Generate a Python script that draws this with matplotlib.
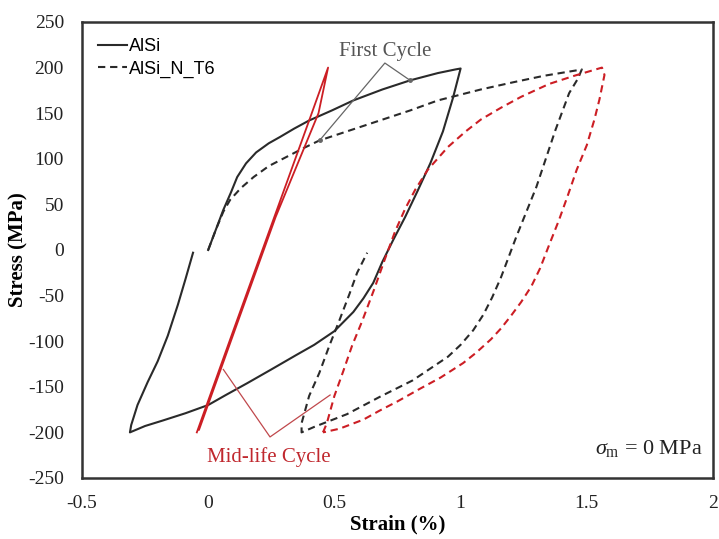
import matplotlib
matplotlib.use("Agg")
import matplotlib.pyplot as plt
from matplotlib.lines import Line2D

# ---------------- data ----------------
# AlSi, first cycle (solid black)
alsi_first_strain = [0.00, 0.03, 0.06, 0.09, 0.115, 0.15, 0.19, 0.24, 0.285, 0.34, 0.40, 0.49, 0.575, 0.69, 0.80, 0.91, 0.98, 1.00,
                     0.97, 0.93, 0.88, 0.83, 0.78, 0.733, 0.69, 0.654, 0.615, 0.575, 0.50, 0.42, 0.35, 0.25, 0.155, 0.07, 0.00,
                     -0.09, -0.18, -0.25, -0.31, -0.305, -0.28, -0.24, -0.20, -0.16, -0.12, -0.09, -0.06]
alsi_first_stress = [0, 22, 44, 63, 80, 95, 107, 117, 124, 133, 142, 153, 164, 176, 186, 194, 198, 199,
                     167, 130, 95, 65, 36, 11, -13, -36, -53, -68, -89, -104, -115, -131, -146, -159, -170,
                     -179, -187, -193, -200, -192, -170, -145, -122, -94, -60, -32, -3]

# AlSi_N_T6, first cycle (dashed black)
t6_first_strain = [0.00, 0.03, 0.06, 0.087, 0.13, 0.18, 0.24, 0.31, 0.38, 0.44, 0.56, 0.68, 0.80, 0.91, 1.08, 1.21, 1.33, 1.46, 1.48,
                   1.465, 1.43, 1.375, 1.30, 1.22, 1.16, 1.125, 1.09, 1.05, 1.00, 0.95, 0.81, 0.68, 0.55, 0.42, 0.37,
                   0.37, 0.40, 0.44, 0.48, 0.52, 0.56, 0.59, 0.63]
t6_first_stress = [0, 22, 42, 55, 68, 80, 92, 102, 112, 120, 131, 142, 153, 164, 176, 184, 191, 197, 198,
                   188, 172, 131, 69, 14, -30, -52, -71, -88, -104, -117, -143, -161, -180, -194, -200,
                   -190, -160, -135, -105, -77, -48, -25, -3]

# AlSi, mid-life cycle (solid red, narrow loop)
alsi_mid_strain = [-0.045, 0.10, 0.25, 0.40, 0.475, 0.437, 0.267, 0.117, -0.036]
alsi_mid_stress = [-200, -88, 27, 142, 200, 150, 36, -79, -197]

# AlSi_N_T6, mid-life cycle (dashed red)
t6_mid_strain = [0.455, 0.47, 0.50, 0.535, 0.57, 0.61, 0.655, 0.70, 0.74, 0.78, 0.82, 0.87, 0.95, 1.02, 1.08, 1.16, 1.24, 1.35, 1.45, 1.56,
                 1.57, 1.55, 1.53, 1.50, 1.46, 1.425, 1.39, 1.35, 1.315, 1.28, 1.24, 1.20, 1.16, 1.12, 1.06, 1.01, 0.92, 0.84, 0.75, 0.68, 0.615, 0.52, 0.455]
t6_mid_stress = [-200, -190, -160, -133, -105, -78, -45, -10, 20, 45, 66, 88, 113, 130, 143, 156, 168, 182, 191, 200,
                 192, 165, 143, 115, 88, 60, 33, 5, -20, -40, -57, -72, -86, -98, -113, -124, -140, -152, -166, -176, -186, -196, -200]

x_ticks = [-0.5, 0, 0.5, 1, 1.5, 2]
x_tick_labels = ["-0.5", "0", "0.5", "1", "1.5", "2"]
y_ticks = [-250, -200, -150, -100, -50, 0, 50, 100, 150, 200, 250]
y_tick_labels = ["-250", "-200", "-150", "-100", "-50", "0", "50", "100", "150", "200", "250"]

# ---------------- figure ----------------
SERIF = ["Liberation Serif", "DejaVu Serif"]
SANS = ["Liberation Sans", "DejaVu Sans"]
plt.rcParams["mathtext.fontset"] = "custom"
plt.rcParams["mathtext.rm"] = "Liberation Serif"
plt.rcParams["mathtext.it"] = "Liberation Serif:italic"

fig = plt.figure(figsize=(7.19, 5.39), dpi=100)
ax = fig.add_axes([0.114, 0.1132, 0.8777, 0.8460])

black = "#2a2a2a"
red = "#cc1e24"
dash = (0, (3.5, 2.3))

ax.plot(alsi_first_strain, alsi_first_stress, color=black, lw=1.5, solid_joinstyle="round")
ax.plot(t6_first_strain, t6_first_stress, color=black, lw=1.5, linestyle=dash)
ax.plot(alsi_mid_strain, alsi_mid_stress, color=red, lw=1.3)
ax.plot(t6_mid_strain, t6_mid_stress, color=red, lw=1.5, linestyle=dash)

ax.set_xlim(-0.5, 2)
ax.set_ylim(-250, 250)
ax.set_xticks(x_ticks)
ax.set_xticklabels(x_tick_labels)
ax.set_yticks(y_ticks)
ax.set_yticklabels(y_tick_labels)
ax.tick_params(length=0, labelsize=14, colors="#222222")
ax.tick_params(axis="y", pad=13)
ax.tick_params(axis="x", pad=12)
for lab in ax.get_xticklabels() + ax.get_yticklabels():
    lab.set_family(SERIF)

for sp in ax.spines.values():
    sp.set_color("#333333")
    sp.set_linewidth(1.8)

ax.set_xlabel("Strain (%)", family=SERIF, fontsize=15, fontweight="bold", labelpad=2)
ax.set_ylabel("Stress (MPa)", family=SERIF, fontsize=15, fontweight="bold")
ax.yaxis.set_label_coords(-0.084, 0.5)

# legend
handles = [Line2D([], [], color=black, lw=1.5),
           Line2D([], [], color=black, lw=1.5, linestyle=dash)]
leg = ax.legend(handles, ["AlSi", "AlSi_N_T6"], loc="upper left", frameon=False,
                prop={"family": SANS, "size": 13}, handlelength=1.6, handletextpad=0.1,
                labelspacing=0.3, borderaxespad=0.5)

# annotations
grey = "#666666"
ax.text(0.70, 207, "First Cycle", family=SERIF, fontsize=15, color="#555555", ha="center", va="bottom")
ax.plot([0.80, 0.70, 0.444], [186, 205, 121], color=grey, lw=0.9)
ax.plot([0.80, 0.444], [186, 121], linestyle="none", marker="o", ms=2.5, color=grey)

mid_red = "#c0484c"
ax.plot([0.06, 0.245, 0.483], [-131, -205, -159], color=mid_red, lw=0.9)
ax.text(0.24, -227, "Mid-life Cycle", family=SERIF, fontsize=15, color="#c0282e", ha="center", va="center")

ax.text(1.96, -218, r"$\sigma_{\mathrm{m}}$ = 0 MPa", family=SERIF, fontsize=16, color="#222222",
        ha="right", va="center")

fig.savefig("out.png", dpi=100)
